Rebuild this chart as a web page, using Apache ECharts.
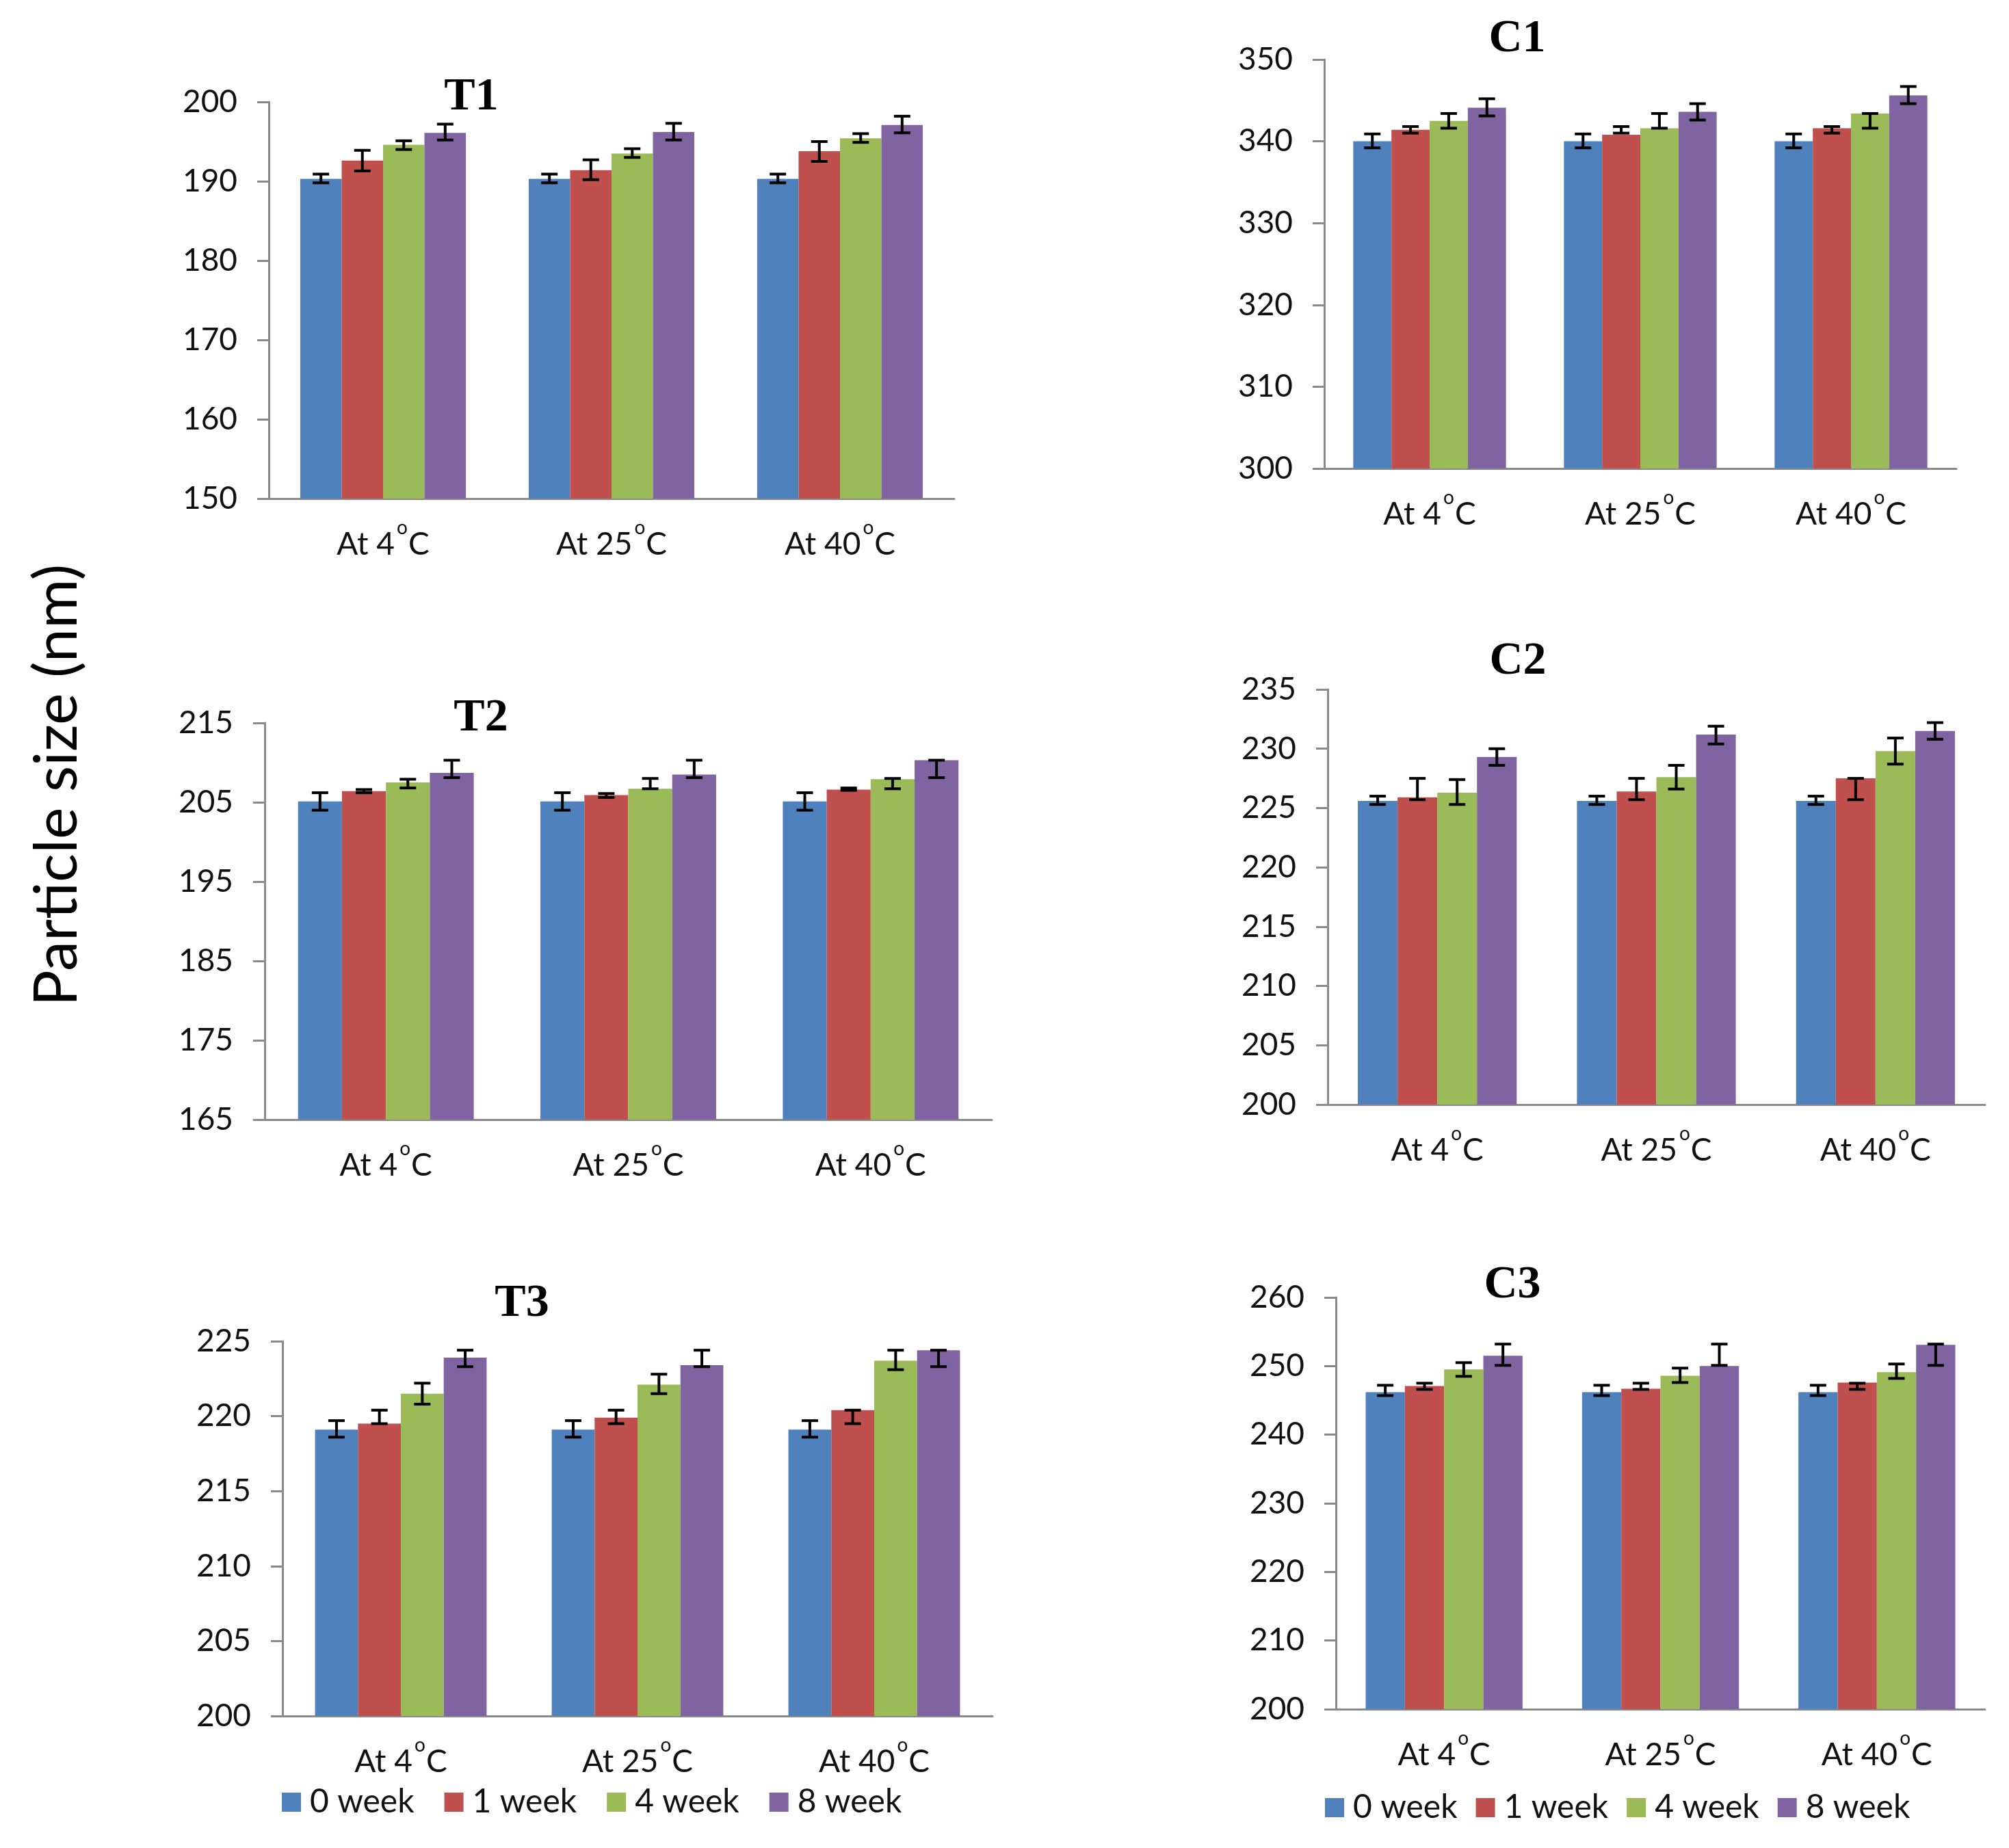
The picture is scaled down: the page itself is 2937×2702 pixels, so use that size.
<!DOCTYPE html>
<html><head><meta charset="utf-8">
<script src="https://cdn.jsdelivr.net/npm/echarts@6/dist/echarts.min.js"></script>
<style>html,body{margin:0;padding:0;background:#fff}#c{width:2937px;height:2702px}</style>
</head><body><div id="c"></div>
<script>
// ---------- data ----------
const categories = ['At 4', 'At 25', 'At 40'];
const weeks = ['0 week', '1 week', '4 week', '8 week'];
const panelNames = ['T1', 'C1', 'T2', 'C2', 'T3', 'C3'];
const yTitle = 'Particle size (nm)';

// values per week (rows: 0,1,4,8 week; cols: 4,25,40 °C)
const T1_vals  = [[190.3,190.3,190.3],[192.6,191.4,193.8],[194.6,193.5,195.4],[196.1,196.2,197.1]];
const T1_errLo = [[189.8,189.8,189.8],[191.3,190.2,192.5],[194.0,193.0,194.9],[195.2,195.2,196.1]];
const T1_errHi = [[190.9,190.9,190.9],[193.9,192.7,195.0],[195.1,194.1,196.0],[197.2,197.3,198.2]];

const C1_vals  = [[340.0,340.0,340.0],[341.4,340.8,341.6],[342.5,341.6,343.4],[344.1,343.6,345.6]];
const C1_errLo = [[339.2,339.2,339.2],[341.0,341.0,341.0],[341.6,341.6,341.6],[343.1,342.6,344.6]];
const C1_errHi = [[340.9,340.9,340.9],[341.8,341.8,341.8],[343.4,343.4,343.4],[345.2,344.6,346.7]];

const T2_vals  = [[205.1,205.1,205.1],[206.4,205.9,206.6],[207.5,206.7,207.9],[208.7,208.5,210.3]];
const T2_errLo = [[204.0,204.0,204.0],[206.2,205.6,206.5],[206.8,206.7,206.7],[208.1,208.1,208.1]];
const T2_errHi = [[206.2,206.2,206.2],[206.6,206.1,206.8],[207.9,208.0,208.0],[210.3,210.3,210.3]];

const C2_vals  = [[225.6,225.6,225.6],[225.9,226.4,227.5],[226.3,227.6,229.8],[229.3,231.2,231.5]];
const C2_errLo = [[225.3,225.3,225.3],[225.7,225.7,225.7],[225.3,226.6,228.7],[228.6,230.4,230.8]];
const C2_errHi = [[226.0,226.0,226.0],[227.5,227.5,227.5],[227.4,228.6,230.9],[230.0,231.9,232.2]];

const T3_vals  = [[219.1,219.1,219.1],[219.5,219.9,220.4],[221.5,222.1,223.7],[223.9,223.4,224.4]];
const T3_errLo = [[218.6,218.6,218.6],[219.5,219.5,219.5],[220.8,221.5,223.1],[223.3,223.3,223.3]];
const T3_errHi = [[219.7,219.7,219.7],[220.4,220.4,220.4],[222.2,222.8,224.4],[224.4,224.4,224.4]];

const C3_vals  = [[246.2,246.2,246.2],[247.1,246.7,247.6],[249.5,248.6,249.1],[251.5,250.0,253.1]];
const C3_errLo = [[245.7,245.7,245.7],[246.6,246.6,246.6],[248.5,247.6,248.2],[250.1,250.1,250.1]];
const C3_errHi = [[247.2,247.2,247.2],[247.5,247.5,247.5],[250.5,249.7,250.3],[253.2,253.2,253.2]];

// axis ranges
const yMin = [150, 300, 165, 200, 200, 200];
const yMax = [200, 350, 215, 235, 225, 260];
const yStep = [10, 10, 10, 5, 5, 10];

// ---------- layout / style ----------
const colors = ['#4F81BD', '#C0504D', '#9BBB59', '#8064A2'];
const FONT = 'Lato';
const GAP = 0.275;
const axisGray = '#8a8a8a';
const grids = [
  {left: 393,  top: 149,  width: 1002, height: 580},
  {left: 1936, top: 87,   width: 924,  height: 598},
  {left: 387,  top: 1057, width: 1063, height: 580},
  {left: 1941, top: 1008, width: 961,  height: 607},
  {left: 413,  top: 1961, width: 1038, height: 548},
  {left: 1953, top: 1897, width: 949,  height: 602}
];
const titlePos = [[689,142],[2218,57],[703,1050],[2219,967],[763,1906],[2211,1879]];
const panelData = [
  [T1_vals, T1_errLo, T1_errHi],
  [C1_vals, C1_errLo, C1_errHi],
  [T2_vals, T2_errLo, T2_errHi],
  [C2_vals, C2_errLo, C2_errHi],
  [T3_vals, T3_errLo, T3_errHi],
  [C3_vals, C3_errLo, C3_errHi]
];

function errRender(si) {
  return function (params, api) {
    const cat = api.value(0), lo = api.value(1), hi = api.value(2);
    const band = api.size([1, 0])[0];
    const total = band * (1 - GAP);
    const bw = total / 4;
    const x = api.coord([cat, lo])[0] - total / 2 + bw * (si + 0.5);
    const yLo = api.coord([cat, lo])[1];
    const yHi = api.coord([cat, hi])[1];
    const cap = 12;
    const st = {stroke: '#000', lineWidth: 4};
    return {type: 'group', children: [
      {type: 'line', shape: {x1: x, y1: yLo, x2: x, y2: yHi}, style: st},
      {type: 'line', shape: {x1: x - cap, y1: yHi, x2: x + cap, y2: yHi}, style: st},
      {type: 'line', shape: {x1: x - cap, y1: yLo, x2: x + cap, y2: yLo}, style: st}
    ]};
  };
}

const xAxes = [], yAxes = [], series = [], graphics = [];
grids.forEach((g, i) => {
  xAxes.push({
    gridIndex: i, type: 'category', data: categories,
    axisLine: {lineStyle: {color: axisGray, width: 3}},
    axisTick: {length: 17, lineStyle: {color: axisGray, width: 3}},
    axisLabel: {
      margin: 29,
      formatter: v => '{n|' + v + '}{s|o}{n|C}',
      rich: {
        n: {fontFamily: FONT, fontSize: 46, color: '#111', lineHeight: 61, verticalAlign: 'bottom'},
        s: {fontFamily: FONT, fontSize: 28, color: '#111', verticalAlign: 'top', lineHeight: 30, padding: [0, 1, 0, 3]}
      }
    }
  });
  yAxes.push({
    gridIndex: i, type: 'value', min: yMin[i], max: yMax[i], interval: yStep[i],
    axisLine: {show: true, lineStyle: {color: axisGray, width: 3}},
    axisTick: {show: true, length: 17, lineStyle: {color: axisGray, width: 3}},
    splitLine: {show: false},
    axisLabel: {fontFamily: FONT, fontSize: 46, color: '#111', margin: 46}
  });
  const [vals, lo, hi] = panelData[i];
  weeks.forEach((w, k) => {
    series.push({
      name: w, type: 'bar', xAxisIndex: i, yAxisIndex: i,
      data: vals[k], barGap: '0%', barCategoryGap: (GAP * 100) + '%',
      itemStyle: {color: colors[k]}, z: 2
    });
  });
  weeks.forEach((w, k) => {
    series.push({
      name: 'err', type: 'custom', xAxisIndex: i, yAxisIndex: i, z: 5,
      renderItem: errRender(k),
      data: lo[k].map((l, c) => [c, l, hi[k][c]]),
      silent: true
    });
  });
  graphics.push({
    type: 'text', x: titlePos[i][0], y: titlePos[i][1],
    style: {text: panelNames[i], font: 'bold 68px "Liberation Serif"', fill: '#000',
      textAlign: 'center', textVerticalAlign: 'middle', align: 'center', verticalAlign: 'middle'}
  });
});
graphics.push({
  type: 'text', x: 84, y: 1148, rotation: Math.PI / 2,
  style: {text: yTitle, font: '88px ' + FONT, fill: '#000',
    textAlign: 'center', textVerticalAlign: 'middle', align: 'center', verticalAlign: 'middle'}
});

const legendCommon = {
  data: weeks, icon: 'rect', itemWidth: 28, itemHeight: 28,
  textStyle: {fontFamily: FONT, fontSize: 48, color: '#111', padding: [0, 0, 0, 8]},
  selectedMode: false
};

const chart = echarts.init(document.getElementById('c'), null, {renderer: 'canvas'});
chart.setOption({
  animation: false,
  backgroundColor: '#fff',
  grid: grids,
  xAxis: xAxes,
  yAxis: yAxes,
  series: series,
  legend: [
    Object.assign({}, legendCommon, {left: 407, top: 2606, itemGap: 44}),
    Object.assign({}, legendCommon, {left: 1932, top: 2614, itemGap: 27})
  ],
  graphic: graphics
});
</script></body></html>
